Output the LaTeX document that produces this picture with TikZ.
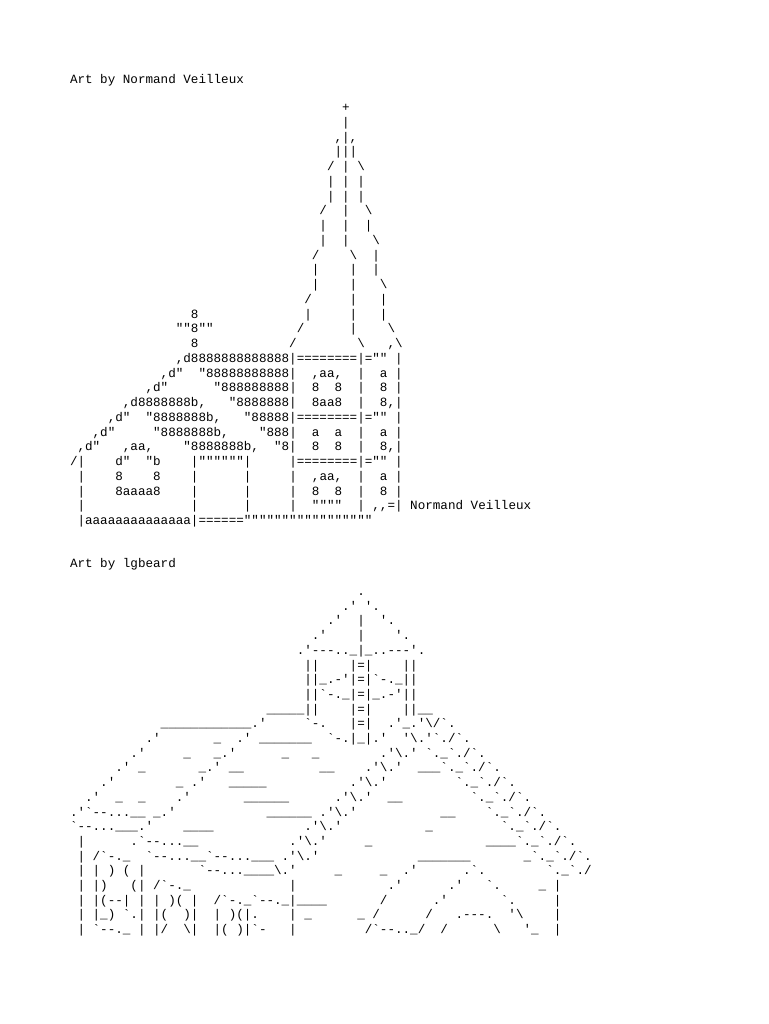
\documentclass[tikz,border=0pt]{standalone}
\usepackage{fontspec}
\setmonofont{Liberation Mono}
\newcommand\bs{\textbackslash}
\newcommand\A[3]{\node[txt] at ({70+7.56*(#1)},{111.5+14.75*(#2)}) {#3};}
\newcommand\B[3]{\node[txt] at ({70+7.56*(#1)},{595.5+14.7*(#2)}) {#3};}
\begin{document}
\begin{tikzpicture}[x=0.75pt,y=-0.75pt,
  txt/.style={anchor=base west,inner sep=0pt,outer sep=0pt,font=\ttfamily\fontsize{9.45}{11}\selectfont}]
\fill[white] (0,0) rectangle (768,1024);
\useasboundingbox (0,0) rectangle (768,1024);
\node[txt] at (70,83.5) {Art~by~Normand~Veilleux};
\node[txt] at (70,567.5) {Art~by~lgbeard};
% ---------- Art 1
\A{36}{0}{+}
\A{36}{1}{|}
\A{35}{2}{,|,}
\A{35}{3}{|||}
\A{34}{4}{/~|~\bs}
\A{34}{5}{|~|~|}
\A{34}{6}{|~|~|}
\A{33}{7}{/~~|~~\bs}
\A{33}{8}{|~~|~~|}
\A{33}{9}{|~~|~~~\bs}
\A{32}{10}{/~~~~\bs~~|}
\A{32}{11}{|~~~~|~~|}
\A{32}{12}{|~~~~|~~~\bs}
\A{31}{13}{/~~~~~|~~~|}
\A{16}{14}{8}
\A{31}{14}{|~~~~~|~~~|}
\A{14}{15}{""8""}
\A{30}{15}{/~~~~~~|~~~~\bs}
\A{16}{16}{8}
\A{29}{16}{/~~~~~~~~\bs~~~,\bs}
\A{14}{17}{,d8888888888888|========|=""~|}
\A{12}{18}{,d"~~"88888888888|~~,aa,~~|~~a~|}
\A{10}{19}{,d"~~~~~~"888888888|~~8~~8~~|~~8~|}
\A{7}{20}{,d8888888b,~~~"8888888|~~8aa8~~|~~8,|}
\A{5}{21}{,d"~~"8888888b,~~~"88888|========|=""~|}
\A{3}{22}{,d"~~~~~"8888888b,~~~~"888|~~a~~a~~|~~a~|}
\A{1}{23}{,d"~~~,aa,~~~~"8888888b,~~"8|~~8~~8~~|~~8,|}
\A{0}{24}{/|~~~~d"~~"b~~~~|""""""|~~~~~|========|=""~|}
\A{1}{25}{|~~~~8~~~~8~~~~|~~~~~~|~~~~~|~~,aa,~~|~~a~|}
\A{1}{26}{|~~~~8aaaa8~~~~|~~~~~~|~~~~~|~~8~~8~~|~~8~|}
\A{1}{27}{|~~~~~~~~~~~~~~|~~~~~~|~~~~~|~~""""~~|~,,=|~Normand~Veilleux}
\A{1}{28}{|aaaaaaaaaaaaaa|======"""""""""""""""""}
% ---------- Art 2
\B{38}{0}{.}
\B{36}{1}{.'~'.}
\B{34}{2}{.'~~|~~'.}
\B{32}{3}{.'~~~~|~~~~'.}
\B{30}{4}{.'---..\_|\_..---'.}
\B{31}{5}{||~~~~|=|~~~~||}
\B{31}{6}{||\_.-'|=|`-.\_||}
\B{31}{7}{||`-.\_|=|\_.-'||}
\B{26}{8}{\_\_\_\_\_||~~~~|=|~~~~||\_\_}
\B{12}{9}{\_\_\_\_\_\_\_\_\_\_\_\_.'}
\B{31}{9}{`-.}
\B{37}{9}{|=|}
\B{42}{9}{.'\_.'\bs/`.}
\B{10}{10}{.'}
\B{19}{10}{\_}
\B{22}{10}{.'}
\B{25}{10}{\_\_\_\_\_\_\_}
\B{34}{10}{`-.|\_|.'}
\B{44}{10}{'\bs.'`./`.}
\B{8}{11}{.'}
\B{15}{11}{\_}
\B{19}{11}{\_.'}
\B{28}{11}{\_}
\B{32}{11}{\_}
\B{41}{11}{.'\bs.'}
\B{47}{11}{`.\_`./`.}
\B{6}{12}{.'}
\B{9}{12}{\_}
\B{17}{12}{\_.'}
\B{21}{12}{\_\_}
\B{33}{12}{\_\_}
\B{39}{12}{.'\bs.'}
\B{46}{12}{\_\_\_`.\_`./`.}
\B{4}{13}{.'}
\B{14}{13}{\_}
\B{16}{13}{.'}
\B{21}{13}{\_\_\_\_\_}
\B{37}{13}{.'\bs.'}
\B{51}{13}{`.\_`./`.}
\B{2}{14}{.'}
\B{6}{14}{\_}
\B{9}{14}{\_}
\B{14}{14}{.'}
\B{23}{14}{\_\_\_\_\_\_}
\B{35}{14}{.'\bs.'}
\B{42}{14}{\_\_}
\B{53}{14}{`.\_`./`.}
\B{0}{15}{.'`--...\_\_~\_.'}
\B{26}{15}{\_\_\_\_\_\_}
\B{33}{15}{.'\bs.'}
\B{49}{15}{\_\_}
\B{55}{15}{`.\_`./`.}
\B{0}{16}{`--...\_\_\_.'}
\B{15}{16}{\_\_\_\_}
\B{31}{16}{.'\bs.'}
\B{47}{16}{\_}
\B{57}{16}{`.\_`./`.}
\B{1}{17}{|}
\B{8}{17}{.`--...\_\_}
\B{29}{17}{.'\bs.'}
\B{39}{17}{\_}
\B{55}{17}{\_\_\_\_`.\_`./`.}
\B{1}{18}{|~/`-.\_~~`--...\_\_`--...\_\_\_~.'\bs.'}
\B{46}{18}{\_\_\_\_\_\_\_}
\B{60}{18}{\_`.\_`./`.}
\B{1}{19}{|~|~)~(~|}
\B{17}{19}{`--...\_\_\_\_\bs.'}
\B{35}{19}{\_}
\B{41}{19}{\_}
\B{44}{19}{.'}
\B{52}{19}{.`.}
\B{63}{19}{`.\_`./}
\B{1}{20}{|~|)~~~(|~/`-.\_}
\B{29}{20}{|}
\B{42}{20}{.'}
\B{50}{20}{.'}
\B{55}{20}{`.}
\B{62}{20}{\_~|}
\B{1}{21}{|~|(--|~|~|~)(~|}
\B{19}{21}{/`-.\_`--.\_|\_\_\_\_}
\B{41}{21}{/}
\B{48}{21}{.'}
\B{57}{21}{`.}
\B{64}{21}{|}
\B{1}{22}{|~|\_)~`.|~|(~~)|~~|~)(|.}
\B{29}{22}{|~\_}
\B{38}{22}{\_~/}
\B{47}{22}{/}
\B{51}{22}{.---.}
\B{58}{22}{'\bs}
\B{64}{22}{|}
\B{1}{23}{|~`--.\_~|~|/~~\bs|~~|(~)|`-}
\B{29}{23}{|}
\B{39}{23}{/`--..\_/}
\B{49}{23}{/}
\B{56}{23}{\bs}
\B{60}{23}{'\_}
\B{64}{23}{|}
\end{tikzpicture}
\end{document}
